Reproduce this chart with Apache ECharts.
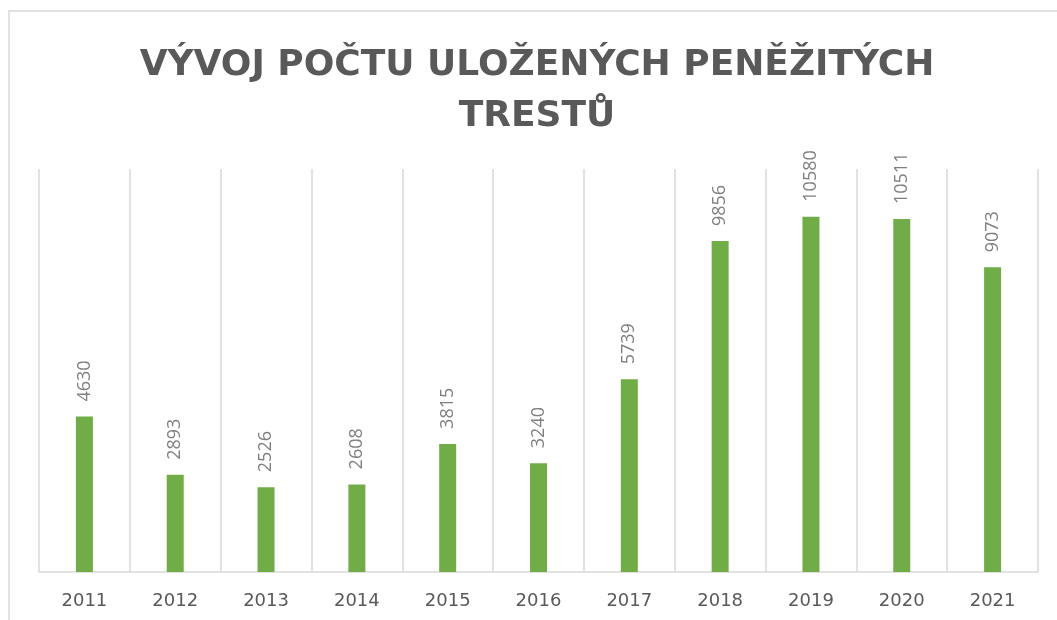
<!DOCTYPE html>
<html>
<head>
<meta charset="utf-8">
<script src="https://cdn.jsdelivr.net/npm/echarts@6/dist/echarts.min.js"></script>
<style>
  html, body { margin: 0; padding: 0; background: #fff; }
  #chart { width: 1057px; height: 620px; }
</style>
</head>
<body>
<div id="chart"></div>
<script>
// roky a počty uložených peněžitých trestů
const years = ['2011', '2012', '2013', '2014', '2015', '2016', '2017', '2018', '2019', '2020', '2021'];
const counts = [4630, 2893, 2526, 2608, 3815, 3240, 5739, 9856, 10580, 10511, 9073];
const titleText = 'VÝVOJ POČTU ULOŽENÝCH PENĚŽITÝCH\nTRESTŮ';

const chart = echarts.init(document.getElementById('chart'));

const option = {
  animation: false,
  backgroundColor: '#fff',
  title: {
    text: titleText,
    left: 532,
    top: 35,
    textAlign: 'center',
    textStyle: {
      fontFamily: 'DejaVu Sans',
      fontWeight: 'bold',
      fontSize: 36,
      color: '#595959',
      lineHeight: 51
    }
  },
  graphic: [{
    type: 'rect',
    silent: true,
    shape: { x: 9, y: 11, width: 1200, height: 800 },
    style: { fill: 'none', stroke: '#d9d9d9', lineWidth: 1.5 }
  }],
  grid: {
    left: 39,
    right: 19,
    top: 169,
    bottom: 48
  },
  xAxis: {
    type: 'category',
    data: years,
    boundaryGap: true,
    axisLine: { show: true, lineStyle: { color: '#d9d9d9', width: 1.5 } },
    axisTick: { show: false },
    splitLine: { show: true, interval: 0, lineStyle: { color: '#d9d9d9', width: 1.5 } },
    axisLabel: {
      color: '#595959',
      fontFamily: 'DejaVu Sans',
      fontSize: 18,
      margin: 20
    }
  },
  yAxis: {
    type: 'value',
    min: 0,
    max: 12000,
    show: false,
    splitLine: { show: false }
  },
  series: [{
    type: 'bar',
    data: counts,
    barWidth: 17,
    itemStyle: { color: '#70ad47' },
    label: {
      show: true,
      position: 'top',
      rotate: 90,
      align: 'left',
      verticalAlign: 'middle',
      distance: 15,
      color: '#7f7f7f',
      fontFamily: 'Open Sans',
      fontSize: 18
    }
  }]
};

chart.setOption(option);
</script>
</body>
</html>
